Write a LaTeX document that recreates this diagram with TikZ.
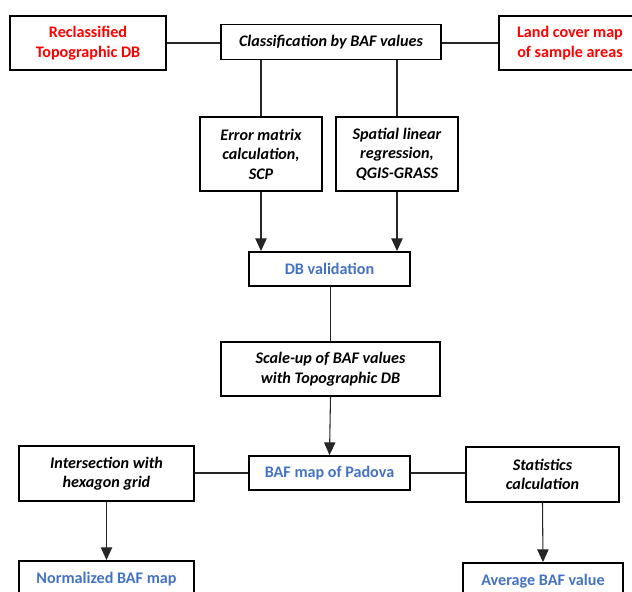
\documentclass[tikz,border=0pt]{standalone}
\usepackage{fontspec}
\setmainfont{Carlito}
\usetikzlibrary{arrows.meta}
\definecolor{redtxt}{RGB}{255,0,0}
\definecolor{bluetxt}{RGB}{68,114,196}
\begin{document}
\begin{tikzpicture}[x=0.75pt,y=-0.75pt,
  box/.style={draw=black,line width=1.4pt,align=center,inner sep=0pt,
    font=\fontsize{12.1}{14.6}\selectfont\bfseries},
  proc/.style={box,font=\fontsize{12.1}{14.6}\selectfont\bfseries\itshape},
  src/.style={box,text=redtxt},
  res/.style={box,text=bluetxt},
  link/.style={draw=black!85,line width=0.8pt},
  arr/.style={link,-{Triangle[length=9.5pt,width=8.5pt]}}]
\useasboundingbox (0,0) rectangle (632,592);
\clip (0,0) rectangle (632,592);
\node[src,minimum width=156*0.75pt,minimum height=54*0.75pt] (recl) at (88,43) {Reclassified\\Topographic DB};
\node[proc,minimum width=220*0.75pt,minimum height=35*0.75pt] (cls) at (331,42) {Classification by BAF values};
\node[src,minimum width=142*0.75pt,minimum height=54*0.75pt] (land) at (570,43) {Land cover map\\of sample areas};
\node[proc,minimum width=122*0.75pt,minimum height=74*0.75pt] (err) at (261,154) {Error matrix\\calculation,\\SCP};
\node[proc,minimum width=122*0.75pt,minimum height=74*0.75pt] (spa) at (397,154) {Spatial linear\\regression,\\QGIS-GRASS};
\node[res,minimum width=161*0.75pt,minimum height=34*0.75pt] (dbv) at (329.5,269) {DB validation};
\node[proc,minimum width=219*0.75pt,minimum height=54*0.75pt] (scl) at (330.5,369) {Scale-up of BAF values\\with Topographic DB};
\node[res,minimum width=161*0.75pt,minimum height=34*0.75pt] (baf) at (329.5,473) {BAF map of Padova};
\node[proc,minimum width=175*0.75pt,minimum height=55*0.75pt] (inter) at (106.5,473.5) {Intersection with\\hexagon grid};
\node[proc,minimum width=153*0.75pt,minimum height=55*0.75pt] (stat) at (542.5,474.5) {Statistics\\calculation};
\node[res,minimum width=175*0.75pt,minimum height=36*0.75pt] (norm) at (106.5,579) {Normalized BAF map};
\node[res,minimum width=160*0.75pt,minimum height=36*0.75pt] (avg) at (543,581) {Average BAF value};
\draw[link] (recl.east) -- (recl.east -| cls.west);
\draw[link] (land.west) -- (land.west -| cls.east);
\draw[link] (cls.south -| err.north) -- (err.north);
\draw[link] (cls.south -| spa.north) -- (spa.north);
\draw[arr] (err.south) -- (err.south |- dbv.north);
\draw[arr] (spa.south) -- (spa.south |- dbv.north);
\draw[link] (dbv.south -| scl.north) -- (scl.north);
\draw[arr] (scl.south) -- (baf.north);
\draw[link] (baf.west) -- (baf.west -| inter.east);
\draw[link] (baf.east) -- (baf.east -| stat.west);
\draw[arr] (inter.south) -- (norm.north);
\draw[arr] (stat.south) -- (avg.north);
\end{tikzpicture}
\end{document}
